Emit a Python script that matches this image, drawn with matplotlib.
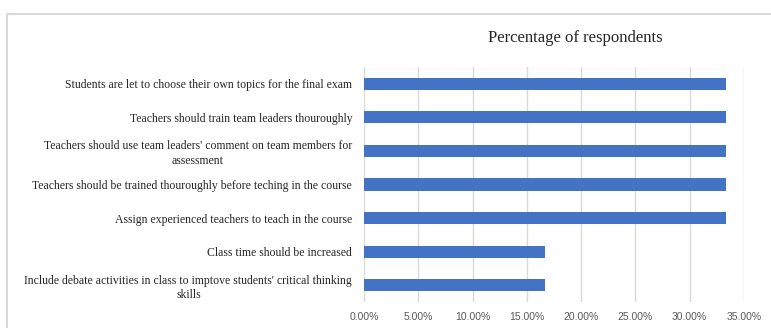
import matplotlib
matplotlib.use("Agg")
import matplotlib.pyplot as plt
from matplotlib.patches import Rectangle
from matplotlib.ticker import FuncFormatter

categories = [
    "Students are let to choose their own topics for the final exam",
    "Teachers should train team leaders thouroughly",
    "Teachers should use team leaders' comment on team members for\nassessment",
    "Teachers should be trained thouroughly before teching in the course",
    "Assign experienced teachers to teach in the course",
    "Class time should be increased",
    "Include debate activities in class to imptove students' critical thinking\nskills",
]
percentages = [0.3333, 0.3333, 0.3333, 0.3333, 0.3333, 0.1667, 0.1667]
xticks = [0.0, 0.05, 0.10, 0.15, 0.20, 0.25, 0.30, 0.35]

W, H = 771, 328
fig = plt.figure(figsize=(W / 100, H / 100), dpi=100)
fig.patch.set_facecolor("white")

# light chart frame (runs off the right/bottom edges like the original crop)
fig.add_artist(Rectangle((7 / W, -0.05), 1.0, 1 - 13.5 / H + 0.05,
                         transform=fig.transFigure, fill=False,
                         edgecolor="#d9d9d9", lw=1.5))

ax = fig.add_axes([364 / W, 1 - 302 / H, 380 / W, 235 / H])
ypos = list(range(len(categories)))
ax.barh(ypos, percentages, height=0.36, color="#4472c4", zorder=3)

ax.set_ylim(-0.5, len(categories) - 0.5)
ax.invert_yaxis()
ax.set_xlim(0, 0.35)
ax.set_xticks(xticks)
ax.xaxis.set_major_formatter(FuncFormatter(lambda v, p: f"{v * 100:.2f}%"))
ax.grid(axis="x", color="#d9d9d9", lw=1, zorder=0)
ax.tick_params(axis="x", length=0, pad=7, labelsize=7.5, labelcolor="#595959")
for t in ax.get_xticklabels():
    t.set_fontfamily("Liberation Sans")

ax.set_yticks(ypos)
ax.set_yticklabels(categories, fontfamily="Liberation Serif", fontsize=8.5,
                   color="#262626", multialignment="center", linespacing=1.3)
ax.tick_params(axis="y", length=0, pad=8.5)

for s in ax.spines.values():
    s.set_visible(False)

fig.text(575 / W, 1 - 38 / H, "Percentage of respondents",
         fontfamily="Liberation Serif", fontsize=12, color="#262626",
         ha="center", va="center")

fig.savefig("out.png", dpi=100)
